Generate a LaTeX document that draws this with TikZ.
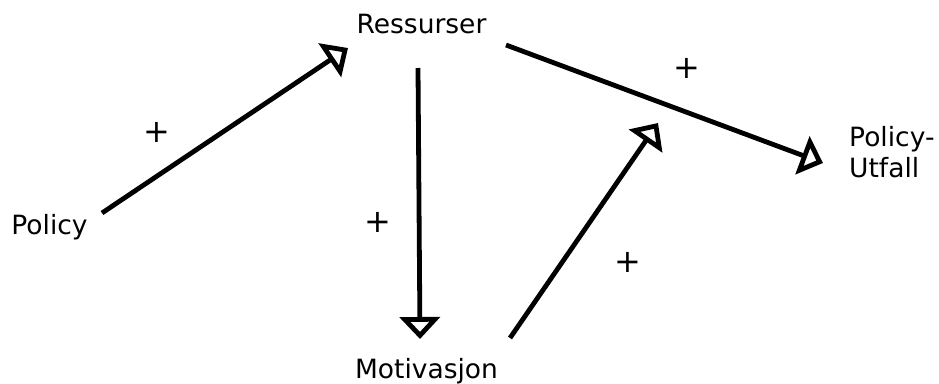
\documentclass[tikz,border=0pt]{standalone}
\usepackage{fontspec}
\setmainfont{DejaVu Sans}
\usetikzlibrary{arrows.meta}
\begin{document}
\begin{tikzpicture}[x=1pt,y=-1pt,
  lbl/.style={inner sep=0pt,anchor=base,font=\fontsize{26.5}{31}\selectfont},
  plus/.style={inner sep=0pt,font=\fontsize{32}{36}\selectfont},
  arr/.style={line width=4.8pt,-{Triangle[open,length=22pt,width=40pt,line width=4.8pt]}}]
\useasboundingbox[fill=white] (0,0) rectangle (939,383);
\node[lbl] (pol) at (49.5,234) {Policy};
\node[lbl] (res) at (421.5,33) {Ressurser};
\node[lbl] (mot) at (426.5,378) {Motivasjon};
\node[lbl,anchor=base west,align=left] (out) at (849,177) {Policy-\\Utfall};
\coordinate (mid) at (658,123);
\node[plus] (p1) at (157,132) {+};
\node[plus] (p2) at (378,222) {+};
\node[plus] (p3) at (687,68) {+};
\node[plus] (p4) at (628,262) {+};
\draw[arr] ([shift={(52.5,-21)}]pol.base) -- ([shift={(-73.5,15)}]res.base);
\draw[arr] ([shift={(-3.5,35)}]res.base) -- ([shift={(-6.5,-39)}]mot.base);
\draw[arr] ([shift={(84.5,12)}]res.base) -- ([shift={(-26,-14)}]out.base west);
\draw[arr] ([shift={(83.5,-40)}]mot.base) -- (mid);
\end{tikzpicture}
\end{document}
